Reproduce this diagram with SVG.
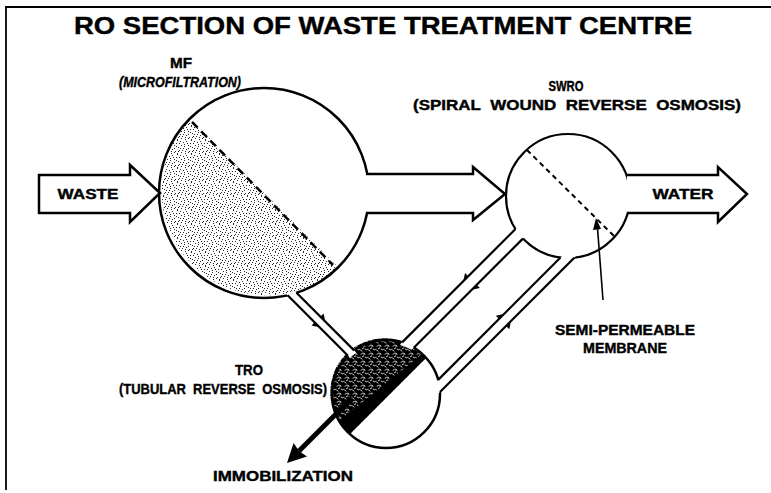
<svg xmlns="http://www.w3.org/2000/svg" xmlns:xlink="http://www.w3.org/1999/xlink" width="771" height="493" viewBox="0 0 771 493">
<style>
.t{font-family:"Liberation Sans",Arial,sans-serif;font-weight:bold;fill:#000;stroke:#000;stroke-width:0.4;font-size:15px;text-anchor:middle}
.ol{fill:#fff;stroke:#000;stroke-width:2.5;stroke-linejoin:miter}
.side{stroke:#000;stroke-width:2.2;fill:none;stroke-linecap:butt}
.pipein{fill:#fff;stroke:none}
.circ{fill:none;stroke:#000;stroke-width:2.5}
</style>
<defs>
<pattern id="stip" width="14" height="14" patternUnits="userSpaceOnUse">
<rect width="14" height="14" fill="#fff"/>
<g fill="#2a2a2a">
<rect x="1" y="2" width="1" height="1"/><rect x="4" y="1" width="1" height="1"/><rect x="8" y="3" width="1" height="1"/><rect x="12" y="1" width="1" height="1"/>
<rect x="2" y="6" width="1" height="1"/><rect x="6" y="5" width="1" height="1"/><rect x="10" y="7" width="1" height="1"/><rect x="13" y="5" width="1" height="1"/>
<rect x="0" y="10" width="1" height="1"/><rect x="4" y="9" width="1" height="1"/><rect x="7" y="11" width="1" height="1"/><rect x="11" y="10" width="1" height="1"/>
<rect x="3" y="13" width="1" height="1"/><rect x="9" y="13" width="1" height="1"/><rect x="13" y="12" width="1" height="1"/><rect x="5" y="3" width="1" height="1"/>
<rect x="9" y="0" width="1" height="1"/><rect x="1" y="8" width="1" height="1"/><rect x="6" y="8" width="1" height="1"/><rect x="12" y="8" width="1" height="1"/>
<rect x="3" y="11" width="1" height="1"/><rect x="8" y="6" width="1" height="1"/><rect x="11" y="3" width="1" height="1"/><rect x="6" y="12" width="1" height="1"/>
<rect x="10" y="11" width="1" height="1"/><rect x="2" y="4" width="1" height="1"/>
</g>
</pattern>
<pattern id="mottle" width="8" height="8" patternUnits="userSpaceOnUse">
<rect width="8" height="8" fill="#000"/>
<g stroke="#fff" stroke-width="0.8" fill="none" stroke-linecap="round">
<path d="M1,2 q1.5,-1.5 3,0"/><path d="M5,5 q1,1.5 2.5,0.5"/><path d="M0.5,6 l1.5,1"/><path d="M4,1 l1,1.5"/><path d="M2.5,4.5 l1.2,-0.6"/>
</g>
</pattern>
<clipPath id="troHalf"><path d="M426,358 A54,54 0 1 0 350,434 Z"/></clipPath>
<g id="barb4"><polygon points="3.5,-4 -3.5,-8.5 -3.5,-4"/><polygon points="3.5,4 -3.5,8.5 -3.5,4"/></g>
<g id="barb6"><polygon points="3.5,-6 -3.5,-10.5 -3.5,-6"/><polygon points="3.5,6 -3.5,10.5 -3.5,6"/></g>
<g id="barb5"><polygon points="3.5,-5 -3.5,-9.5 -3.5,-5"/><polygon points="3.5,5 -3.5,9.5 -3.5,5"/></g>
</defs>

<rect width="771" height="493" fill="#fff"/>
<path d="M771,7 H6 V490" fill="none" stroke="#000" stroke-width="1.8"/>

<text class="t" x="383" y="34" style="font-size:24px" textLength="618" lengthAdjust="spacingAndGlyphs">RO SECTION OF WASTE TREATMENT CENTRE</text>

<g id="mf">
<circle cx="264" cy="193" r="105" fill="#fff"/>
<path d="M189.8,118.8 A105,105 0 0 0 338.2,267.2 Z" fill="url(#stip)"/>
<circle class="circ" cx="264" cy="193" r="105"/>
<line x1="192" y1="122" x2="333" y2="265" stroke="#000" stroke-width="2.5" stroke-dasharray="8 5"/>
<text class="t" x="181" y="68" textLength="22" lengthAdjust="spacingAndGlyphs">MF</text>
<text class="t" x="180" y="87" font-style="italic" textLength="122" lengthAdjust="spacingAndGlyphs">(MICROFILTRATION)</text>
</g>

<g id="swro">
<circle cx="568" cy="196" r="62" fill="#fff" stroke="#000" stroke-width="2.2"/>
<line x1="527" y1="150" x2="615" y2="237" stroke="#000" stroke-width="2" stroke-dasharray="5 4"/>
<text class="t" x="566" y="91" textLength="35" lengthAdjust="spacingAndGlyphs">SWRO</text>
<text class="t" x="577" y="110" textLength="328" lengthAdjust="spacingAndGlyphs">(SPIRAL&#160;&#160;WOUND&#160;&#160;REVERSE&#160;&#160;OSMOSIS)</text>
</g>

<g id="tro">
<circle cx="386" cy="394" r="54" fill="#fff"/>
<path d="M426,358 A54,54 0 1 0 350,434 Z" fill="url(#mottle)"/>
<polygon points="350,434 426,358 422,354 338,422" fill="#000" clip-path="url(#troHalf)"/>
<circle class="circ" cx="386" cy="394" r="54" stroke-width="2.2"/>
<text class="t" x="249" y="375" textLength="28" lengthAdjust="spacingAndGlyphs">TRO</text>
<text class="t" x="223" y="394" textLength="208" lengthAdjust="spacingAndGlyphs">(TUBULAR&#160;&#160;REVERSE&#160;&#160;OSMOSIS)</text>
</g>

<g id="waste">
<polygon class="ol" points="39,175 130,175 130,165 160,193 130,222 130,213 39,213"/>
<text class="t" x="88" y="199" textLength="61" lengthAdjust="spacingAndGlyphs">WASTE</text>
</g>

<g id="water">
<path class="ol" d="M627,175 H718 V167 L747,194 L718,222 V213 H627"/>
<text class="t" x="683" y="199" textLength="61" lengthAdjust="spacingAndGlyphs">WATER</text>
</g>

<g id="membrane-label">
<line x1="603" y1="300" x2="597.5" y2="228" stroke="#000" stroke-width="1.6"/>
<polygon points="596,218 593,230 601,229" fill="#000"/>
<text class="t" x="625" y="335" textLength="140" lengthAdjust="spacingAndGlyphs">SEMI-PERMEABLE</text>
<text class="t" x="625" y="353" textLength="84" lengthAdjust="spacingAndGlyphs">MEMBRANE</text>
</g>

<g id="immobilization">
<line x1="352" y1="398" x2="299" y2="451" stroke="#000" stroke-width="5"/>
<polygon points="287,463 293.6,443 299,451 307,456.4" fill="#000"/>
<text class="t" x="283" y="481" textLength="140" lengthAdjust="spacingAndGlyphs">IMMOBILIZATION</text>
</g>

<g id="connectors">
<path class="ol" d="M366,174 H473 V167 L505,194 L473,220 V213 H366"/>
<polygon class="pipein" points="294.4,290.7 356.2,352.5 350.1,357.8 285.5,293.2"/>
<line class="side" x1="296.5" y1="292.8" x2="354.1" y2="350.4"/>
<line class="side" x1="287.6" y1="295.3" x2="348.0" y2="355.7"/>
<use xlink:href="#barb4" href="#barb4" transform="translate(320,322) rotate(45)"/>
<polygon class="pipein" points="400.0,344.5 517.6,226.9 525.0,236.5 411.7,349.8"/>
<line class="side" x1="402.1" y1="342.4" x2="515.5" y2="229.0"/>
<line class="side" x1="413.8" y1="347.7" x2="522.9" y2="238.6"/>
<use xlink:href="#barb6" href="#barb6" transform="translate(470,283) rotate(135)"/>
<polygon class="pipein" points="436.0,382.0 562.6,255.4 576.4,255.6 437.9,394.1"/>
<line class="side" x1="438.1" y1="379.9" x2="560.5" y2="257.5"/>
<line class="side" x1="440.0" y1="392.0" x2="574.3" y2="257.7"/>
<use xlink:href="#barb5" href="#barb5" transform="translate(505,320) rotate(-45)"/>
</g>
</svg>
